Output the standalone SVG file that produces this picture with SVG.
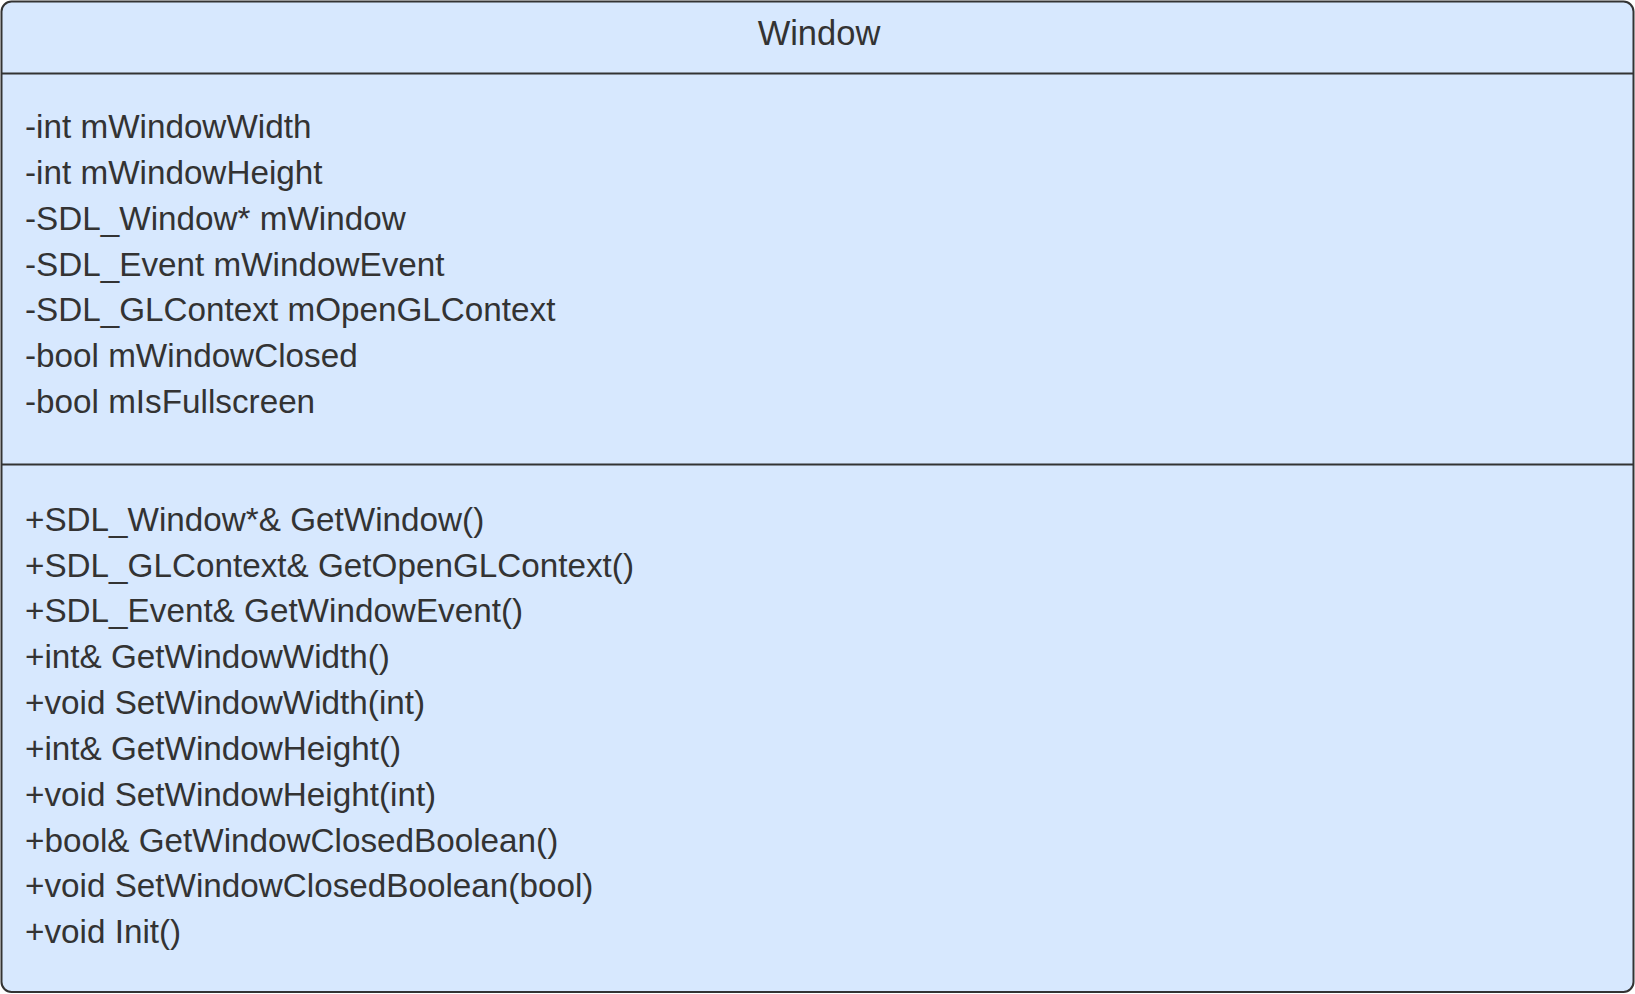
<svg xmlns="http://www.w3.org/2000/svg" width="1635" height="994" viewBox="0 0 1635 994">
<style>
.box{fill:#d7e8fe;stroke:#333333;stroke-width:2}
.div{stroke:#333333;stroke-width:2}
.t{font-family:"Liberation Sans",Arial,sans-serif;font-size:33.25px;fill:#333333}
.title{font-family:"Liberation Sans",Arial,sans-serif;font-size:34.5px;fill:#333333;text-anchor:middle}
</style>
<rect width="1635" height="994" fill="#ffffff"/>
<g id="window-class">
<rect class="box" x="1.5" y="1.5" width="1632" height="990.5" rx="10" ry="10"/>
<line class="div" x1="1.5" y1="73.5" x2="1633.5" y2="73.5"/>
<line class="div" x1="1.5" y1="464.5" x2="1633.5" y2="464.5"/>
<text class="title" x="819" y="45">Window</text>
<text class="t" x="25" y="138">-int mWindowWidth</text>
<text class="t" x="25" y="184">-int mWindowHeight</text>
<text class="t" x="25" y="230">-SDL_Window* mWindow</text>
<text class="t" x="25" y="276">-SDL_Event mWindowEvent</text>
<text class="t" x="25" y="321">-SDL_GLContext mOpenGLContext</text>
<text class="t" x="25" y="367">-bool mWindowClosed</text>
<text class="t" x="25" y="413">-bool mIsFullscreen</text>
<text class="t" x="25" y="531">+SDL_Window*&amp; GetWindow()</text>
<text class="t" x="25" y="577">+SDL_GLContext&amp; GetOpenGLContext()</text>
<text class="t" x="25" y="622">+SDL_Event&amp; GetWindowEvent()</text>
<text class="t" x="25" y="668">+int&amp; GetWindowWidth()</text>
<text class="t" x="25" y="714">+void SetWindowWidth(int)</text>
<text class="t" x="25" y="760">+int&amp; GetWindowHeight()</text>
<text class="t" x="25" y="806">+void SetWindowHeight(int)</text>
<text class="t" x="25" y="852">+bool&amp; GetWindowClosedBoolean()</text>
<text class="t" x="25" y="897">+void SetWindowClosedBoolean(bool)</text>
<text class="t" x="25" y="943">+void Init()</text>
</g>
</svg>
